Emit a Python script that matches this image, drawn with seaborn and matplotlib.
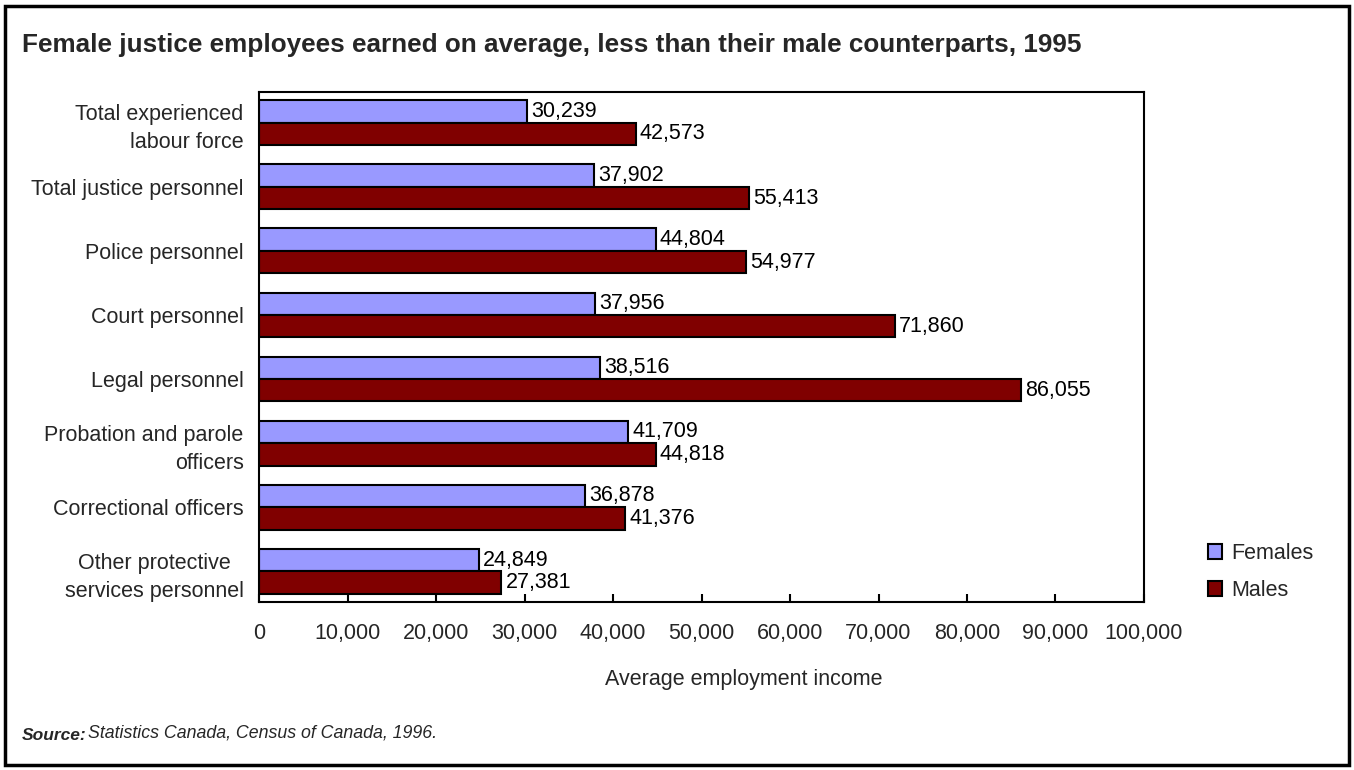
import matplotlib
matplotlib.use("Agg")
import matplotlib.pyplot as plt
import seaborn as sns
import pandas as pd
from matplotlib.patches import Rectangle, Patch
from matplotlib.ticker import FuncFormatter, MultipleLocator

categories = [
    "Total experienced\nlabour force",
    "Total justice personnel",
    "Police personnel",
    "Court personnel",
    "Legal personnel",
    "Probation and parole\nofficers",
    "Correctional officers",
    "Other protective\nservices personnel",
]
females = [30239, 37902, 44804, 37956, 38516, 41709, 36878, 24849]
males = [42573, 55413, 54977, 71860, 86055, 44818, 41376, 27381]
series = ["Females", "Males"]
colors = {"Females": "#9999FF", "Males": "#800000"}

df = pd.DataFrame({
    "category": categories * 2,
    "income": females + males,
    "sex": ["Females"] * len(categories) + ["Males"] * len(categories),
})

sns.set_theme(style="white")
plt.rcParams["font.family"] = ["Liberation Sans", "DejaVu Sans"]

FS = 15.5

fig = plt.figure(figsize=(13.54, 7.7), dpi=100)
ax = fig.add_axes([0.1913, 0.2182, 0.6536, 0.6623])

sns.barplot(data=df, y="category", x="income", hue="sex", hue_order=series,
            order=categories, palette=colors, width=0.7, edgecolor="black",
            linewidth=1.5, orient="h", ax=ax, legend=False, saturation=1)

for cont in ax.containers:
    vals = [int(round(b.get_width())) for b in cont]
    ax.bar_label(cont, labels=[f"{v:,}" for v in vals], padding=3,
                 fontsize=FS, color="black")

ax.set_xlim(0, 100000)
ax.set_ylim(7.48, -0.48)
ax.xaxis.set_major_locator(MultipleLocator(10000))
ax.xaxis.set_major_formatter(FuncFormatter(lambda v, p: f"{int(v):,}"))
ax.tick_params(axis="x", direction="in", length=6, width=1.5, color="black",
               labelsize=FS, pad=15, bottom=True)
ax.tick_params(axis="y", length=0, labelsize=FS, pad=11)
ax.set_xlabel("")
ax.set_ylabel("")
for lbl in ax.get_yticklabels():
    lbl.set_linespacing(1.45)
    if lbl.get_text().startswith("Other"):
        lbl.set_multialignment("center")
    else:
        lbl.set_multialignment("right")
for s in ax.spines.values():
    s.set_color("black")
    s.set_linewidth(1.5)
    s.set_visible(True)

fig.text(744 / 1354, 1 - 680 / 770, "Average employment income", ha="center",
         va="center", fontsize=FS)

handles = [Patch(facecolor=colors[s], edgecolor="black", linewidth=1.5, label=s)
           for s in series]
fig.legend(handles=handles, loc="center left",
           bbox_to_anchor=(1189 / 1354, 1 - 572 / 770), frameon=False,
           fontsize=FS, handlelength=0.65, handleheight=0.65,
           handletextpad=0.4, labelspacing=0.75)

fig.text(22 / 1354, 1 - 45 / 770,
         "Female justice employees earned on average, less than their male counterparts, 1995",
         ha="left", va="center", fontsize=18.8, fontweight="bold")
fig.text(22 / 1354, 1 - 735 / 770, "Source:", ha="left", va="center",
         fontsize=12.5, fontweight="bold", style="italic")
fig.text(88 / 1354, 1 - 733 / 770, "Statistics Canada, Census of Canada, 1996.",
         ha="left", va="center", fontsize=12.8, style="italic")

fig.patches.append(Rectangle((5 / 1354, 5 / 770), 1344 / 1354, 759 / 770,
                             transform=fig.transFigure, fill=False,
                             edgecolor="black", linewidth=2.5))

fig.savefig("out.png", dpi=100)
